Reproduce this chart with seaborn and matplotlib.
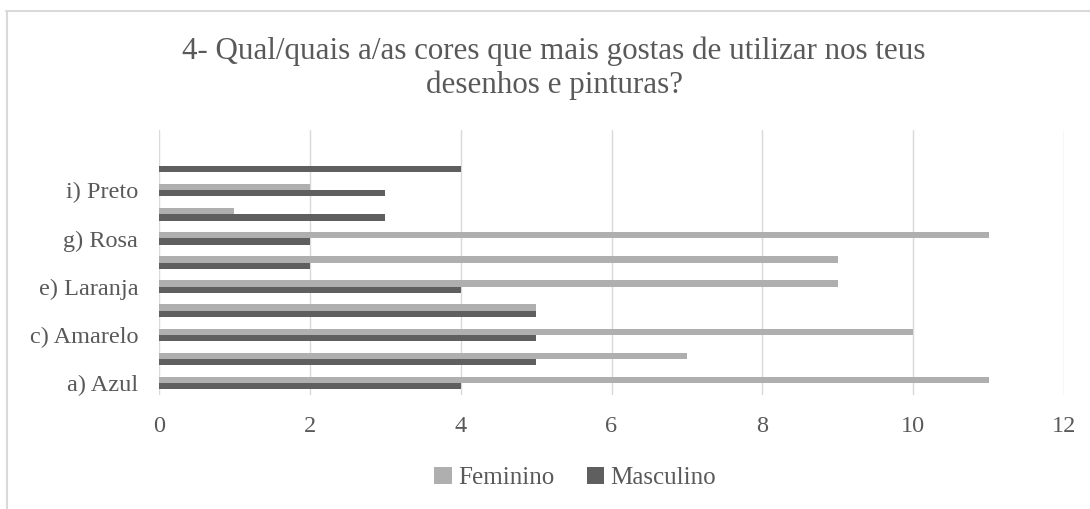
import matplotlib
matplotlib.use("Agg")
import matplotlib.pyplot as plt
import seaborn as sns
import pandas as pd
from matplotlib.lines import Line2D

categories = ["a) Azul", "b) Verde", "c) Amarelo", "d) Vermelho", "e) Laranja",
              "f) Roxo", "g) Rosa", "h) Castanho", "i) Preto", "j) Branco"]
shown_labels = ["a) Azul", "", "c) Amarelo", "", "e) Laranja",
                "", "g) Rosa", "", "i) Preto", ""]
feminino = [11, 7, 10, 5, 9, 9, 11, 1, 2, 0]
masculino = [4, 5, 5, 5, 4, 2, 2, 3, 3, 4]
series = ["Feminino", "Masculino"]
colors = ["#AFAFAF", "#5F5F5F"]
title = "4- Qual/quais a/as cores que mais gostas de utilizar nos teus\ndesenhos e pinturas?"

df = pd.DataFrame({
    "cat": categories * 2,
    "val": feminino + masculino,
    "serie": [series[0]] * len(categories) + [series[1]] * len(categories),
})

sns.set_theme(style="white")
plt.rcParams["font.family"] = ["Liberation Serif", "DejaVu Serif"]
text_color = "#595959"

W, H = 1090, 509
fig = plt.figure(figsize=(W / 100, H / 100), dpi=100)
ax = fig.add_axes([159 / W, 1 - 395 / H, (1064 - 159) / W, (395 - 130) / H])

order = categories[::-1]
sns.barplot(data=df, y="cat", x="val", hue="serie", order=order, hue_order=series,
            palette=colors, orient="h", width=0.52, gap=0, ax=ax, legend=True,
            saturation=1, linewidth=0, edgecolor="none")

ax.set_ylim(9.5, -1.5)
ax.set_xlim(0, 12)
ax.set_xticks(range(0, 13, 2))
ax.set_yticks(range(len(order)))
ax.set_yticklabels(shown_labels[::-1])
ax.set_xlabel("")
ax.set_ylabel("")
for s in ax.spines.values():
    s.set_visible(False)
ax.grid(axis="x", color="#D9D9D9", linewidth=1)
ax.grid(axis="y", visible=False)
ax.set_axisbelow(True)
ax.tick_params(axis="both", length=0, labelsize=17.5, colors=text_color)
ax.tick_params(axis="y", pad=15)
ax.tick_params(axis="x", pad=15)

handles, labels = ax.get_legend_handles_labels()
ax.get_legend().remove()
leg = fig.legend(handles, labels, loc="center", bbox_to_anchor=(575 / W, 1 - 478 / H), ncol=2,
                 frameon=False, fontsize=18, handlelength=0.7, handleheight=0.7,
                 handletextpad=0.25, columnspacing=1.3)
for t in leg.get_texts():
    t.set_color(text_color)

fig.text(554 / W, 1 - 68 / H, title, ha="center", va="center", fontsize=22.3,
         color=text_color, linespacing=1.22)

border_kw = dict(transform=fig.transFigure, color="#D9D9D9", linewidth=1.5)
fig.add_artist(Line2D([6 / W, 1.0], [1 - 10.5 / H, 1 - 10.5 / H], **border_kw))
fig.add_artist(Line2D([6.5 / W, 6.5 / W], [0.0, 1 - 10.5 / H], **border_kw))

fig.savefig("out.png", dpi=100)
